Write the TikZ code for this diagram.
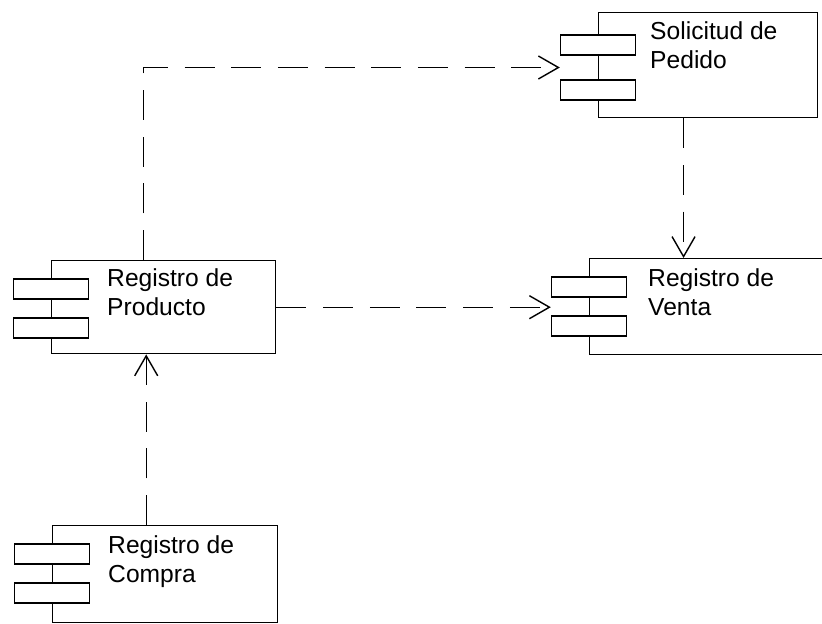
\documentclass[tikz,border=0pt]{standalone}
\usepackage{fontspec}
\setmainfont{Liberation Sans}
\usepackage{tikz}
\usetikzlibrary{arrows.meta, calc}

\begin{document}
\begin{tikzpicture}[x=0.03cm, y=-0.03cm]
    \tikzstyle{comp}=[draw,line width=1.2pt,rectangle,anchor=north west,inner sep=0pt,fill=white]
    \tikzstyle{port}=[draw,line width=1.2pt,rectangle,fill=white,minimum width=2.25cm,minimum height=0.6cm,inner sep=0pt]
    \tikzstyle{cname}=[anchor=north west,inner sep=0pt,align=left,font=\fontsize{21}{25}\selectfont]
    \tikzstyle{edge} = [draw,line width=1.2pt,dash pattern=on 0.9cm off 0.5cm,-{Straight Barb[length=0.6cm,width=0.69cm,line width=1.2pt]}]

    \useasboundingbox (0,0) rectangle (822,624);

    % components
    \node[comp,minimum width=6.57cm,minimum height=3.15cm] (sp) at (598,12) {};
    \node[comp,minimum width=6.72cm,minimum height=2.79cm] (rp) at (51,260) {};
    \node[comp,minimum width=7.5cm,minimum height=2.88cm] (rv) at (589,258) {};
    \node[comp,minimum width=6.75cm,minimum height=2.91cm] (rc) at (52,525) {};

    \node[port] (sp1) at ([yshift=-0.99cm]sp.north west) {};
    \node[port] (sp2) at ([yshift=-2.34cm]sp.north west) {};
    \node[port] (rp1) at ([yshift=-0.87cm]rp.north west) {};
    \node[port] (rp2) at ([yshift=-2.04cm]rp.north west) {};
    \node[port] (rv1) at ([yshift=-0.87cm]rv.north west) {};
    \node[port] (rv2) at ([yshift=-2.04cm]rv.north west) {};
    \node[port] (rc1) at ([yshift=-0.87cm]rc.north west) {};
    \node[port] (rc2) at ([yshift=-2.04cm]rc.north west) {};

    \node[cname] (spt) at ([xshift=1.56cm,yshift=-0.27cm]sp.north west) {Solicitud de\\Pedido};
    \node[cname] (rpt) at ([xshift=1.68cm,yshift=-0.24cm]rp.north west) {Registro de\\Producto};
    \node[cname] (rvt) at ([xshift=1.77cm,yshift=-0.3cm]rv.north west) {Registro de\\Venta};
    \node[cname] (rct) at ([xshift=1.68cm,yshift=-0.3cm]rc.north west) {Registro de\\Compra};

    \coordinate (spin) at ($(sp1.south west)!0.5!(sp2.north west)$);

    % dependencies
    \path[edge] ([xshift=-0.6cm]rp.north) |- (spin);
    \path[edge] ([xshift=-0.74cm]sp.south) -- ([xshift=-0.74cm]sp.south |- rv.north);
    \path[edge] (rp.east) -- (rp.east -| rv1.west);
    \path[edge] ([xshift=-0.57cm]rc.north) -- ([xshift=-0.57cm]rc.north |- rp.south);

\end{tikzpicture}
\end{document}
